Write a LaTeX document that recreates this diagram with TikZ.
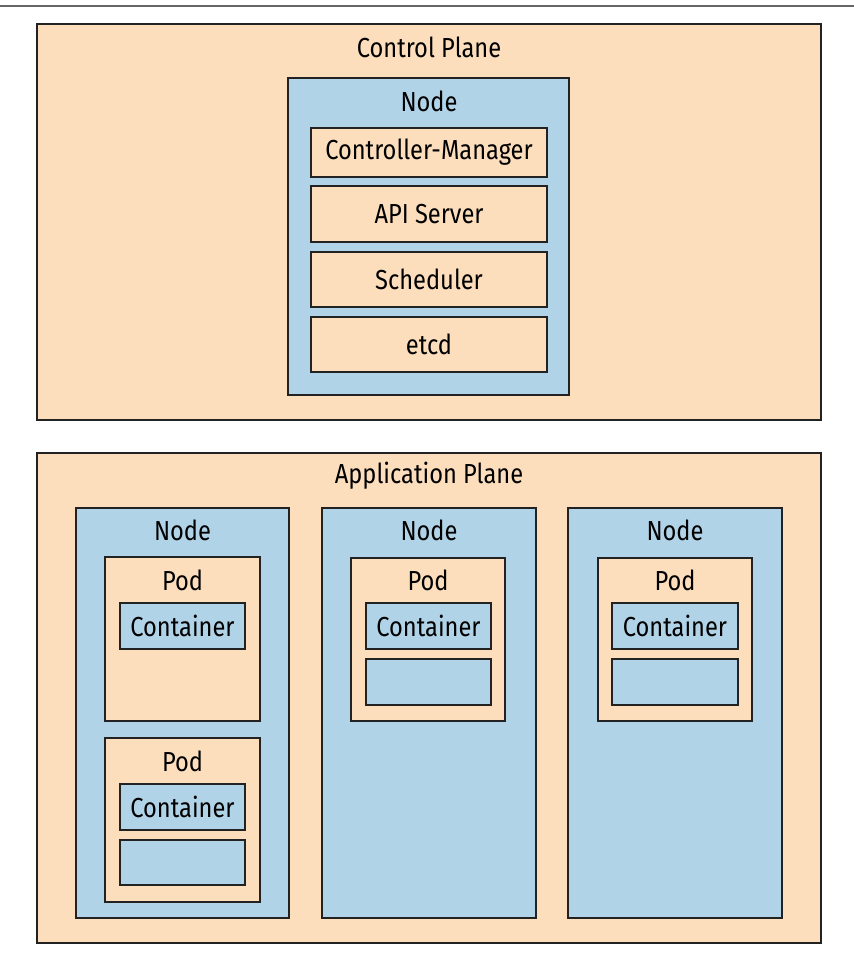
\documentclass[tikz,border=0pt]{standalone}
\usepackage{fontspec}
\setmainfont{Fira Sans}[FakeStretch=0.86]
\definecolor{peachc}{HTML}{FCDEBC}
\definecolor{bluec}{HTML}{B1D3E8}
\definecolor{linec}{HTML}{222222}
\tikzset{
	peachbox/.style={fill=peachc, draw=linec, line width=1.5pt},
	bluebox/.style={fill=bluec, draw=linec, line width=1.5pt},
	lbl/.style={inner sep=0pt, font=\fontsize{27.5}{32}\selectfont}
}
\begin{document}
\begin{tikzpicture}[x=1pt, y=-1pt]
		\useasboundingbox (0, 0) rectangle (854, 962);
		\draw[line width=2pt, gray!80!black] (0, 6) -- (854, 6);
		% control plane
		\filldraw[peachbox] (37, 24) rectangle (821, 420);
		\node[lbl] (cplane) at (429, 47) {Control Plane};
		\filldraw[bluebox] (288, 78) rectangle (569, 395);
		\node[lbl] (cpnode) at (429, 101) {Node};
		\filldraw[peachbox] (311, 128) rectangle (547, 177);
		\node[lbl] (cm) at (429, 152.5) {Controller-Manager};
		\filldraw[peachbox] (311, 186) rectangle (547, 242);
		\node[lbl] (api) at (429, 214) {API Server};
		\filldraw[peachbox] (311, 252) rectangle (547, 307);
		\node[lbl] (sched) at (429, 279.5) {Scheduler};
		\filldraw[peachbox] (311, 317) rectangle (547, 372);
		\node[lbl] (etcd) at (429, 344.5) {etcd};
		% application plane
		\filldraw[peachbox] (37, 453) rectangle (821, 943);
		\node[lbl] (aplane) at (429, 476) {Application Plane};
		% first node, two pods
		\filldraw[bluebox] (76, 508) rectangle (289, 918);
		\node[lbl] (nodea) at (182.5, 530) {Node};
		\filldraw[peachbox] (105, 557) rectangle (260, 721);
		\node[lbl] (poda) at (182.5, 580) {Pod};
		\filldraw[bluebox] (120, 603) rectangle (245, 649);
		\node[lbl] (conta) at (182.5, 626) {Container};
		\filldraw[peachbox] (105, 738) rectangle (260, 902);
		\node[lbl] (podb) at (182.5, 761) {Pod};
		\filldraw[bluebox] (120, 784) rectangle (245, 830);
		\node[lbl] (contb) at (182.5, 807) {Container};
		\filldraw[bluebox] (120, 840) rectangle (245, 885);
		% second node
		\filldraw[bluebox] (322, 508) rectangle (536, 918);
		\node[lbl] (nodeb) at (429, 530) {Node};
		\filldraw[peachbox] (351, 558) rectangle (505, 721);
		\node[lbl] (podc) at (428, 580) {Pod};
		\filldraw[bluebox] (366, 603) rectangle (491, 649);
		\node[lbl] (contc) at (428.5, 626) {Container};
		\filldraw[bluebox] (366, 659) rectangle (491, 705);
		% third node
		\filldraw[bluebox] (568, 508) rectangle (782, 918);
		\node[lbl] (nodec) at (675, 530) {Node};
		\filldraw[peachbox] (598, 558) rectangle (752, 721);
		\node[lbl] (podd) at (675, 580) {Pod};
		\filldraw[bluebox] (612, 603) rectangle (738, 649);
		\node[lbl] (contd) at (675, 626) {Container};
		\filldraw[bluebox] (612, 659) rectangle (738, 705);
	\end{tikzpicture}
\end{document}
